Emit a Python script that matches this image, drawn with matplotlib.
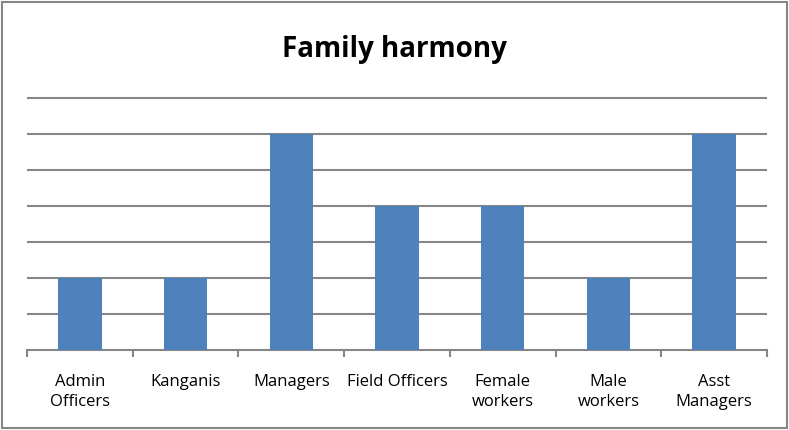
import matplotlib
matplotlib.use("Agg")
import matplotlib.pyplot as plt
import numpy as np
from matplotlib.patches import Rectangle

categories = ["Admin\nOfficers", "Kanganis", "Managers", "Field Officers",
              "Female\nworkers", "Male\nworkers", "Asst\nManagers"]
values = [2, 2, 6, 4, 4, 2, 6]
title = "Family harmony"

plt.rcParams['font.family'] = ['Open Sans', 'DejaVu Sans']

fig = plt.figure(figsize=(7.89, 4.30), dpi=100)
ax = fig.add_axes([27/789, 1-350/430, 740/789, 254/430])

x = np.arange(len(categories))
ax.bar(x, values, width=0.41, color="#4F81BD", zorder=3)

ax.set_xlim(-0.5, len(categories)-0.5)
ax.set_ylim(0, 7*254/252)
ax.set_yticks(np.arange(1, 8))
ax.yaxis.grid(True, color="#868686", linewidth=1.5, zorder=0)
ax.tick_params(axis='y', left=False, labelleft=False)

ax.set_xticks(x)
ax.set_xticklabels(categories, fontsize=12, linespacing=1.4)
ax.tick_params(axis='x', which='major', length=0, pad=17)
ax.set_xticks(np.arange(-0.5, len(categories)), minor=True)
ax.tick_params(axis='x', which='minor', length=5, width=1.5, color="#868686")

for s in ['top', 'right', 'left']:
    ax.spines[s].set_visible(False)
ax.spines['bottom'].set_color("#868686")
ax.spines['bottom'].set_linewidth(1.5)

fig.text(0.5, 1-49/430, title, ha='center', va='center', fontsize=20, fontweight='bold')

fig.patches.append(Rectangle((2/789, 2/430), 785/789, 426/430, transform=fig.transFigure,
                             fill=False, edgecolor="#868686", linewidth=1.5))

fig.savefig("out.png", dpi=100)
